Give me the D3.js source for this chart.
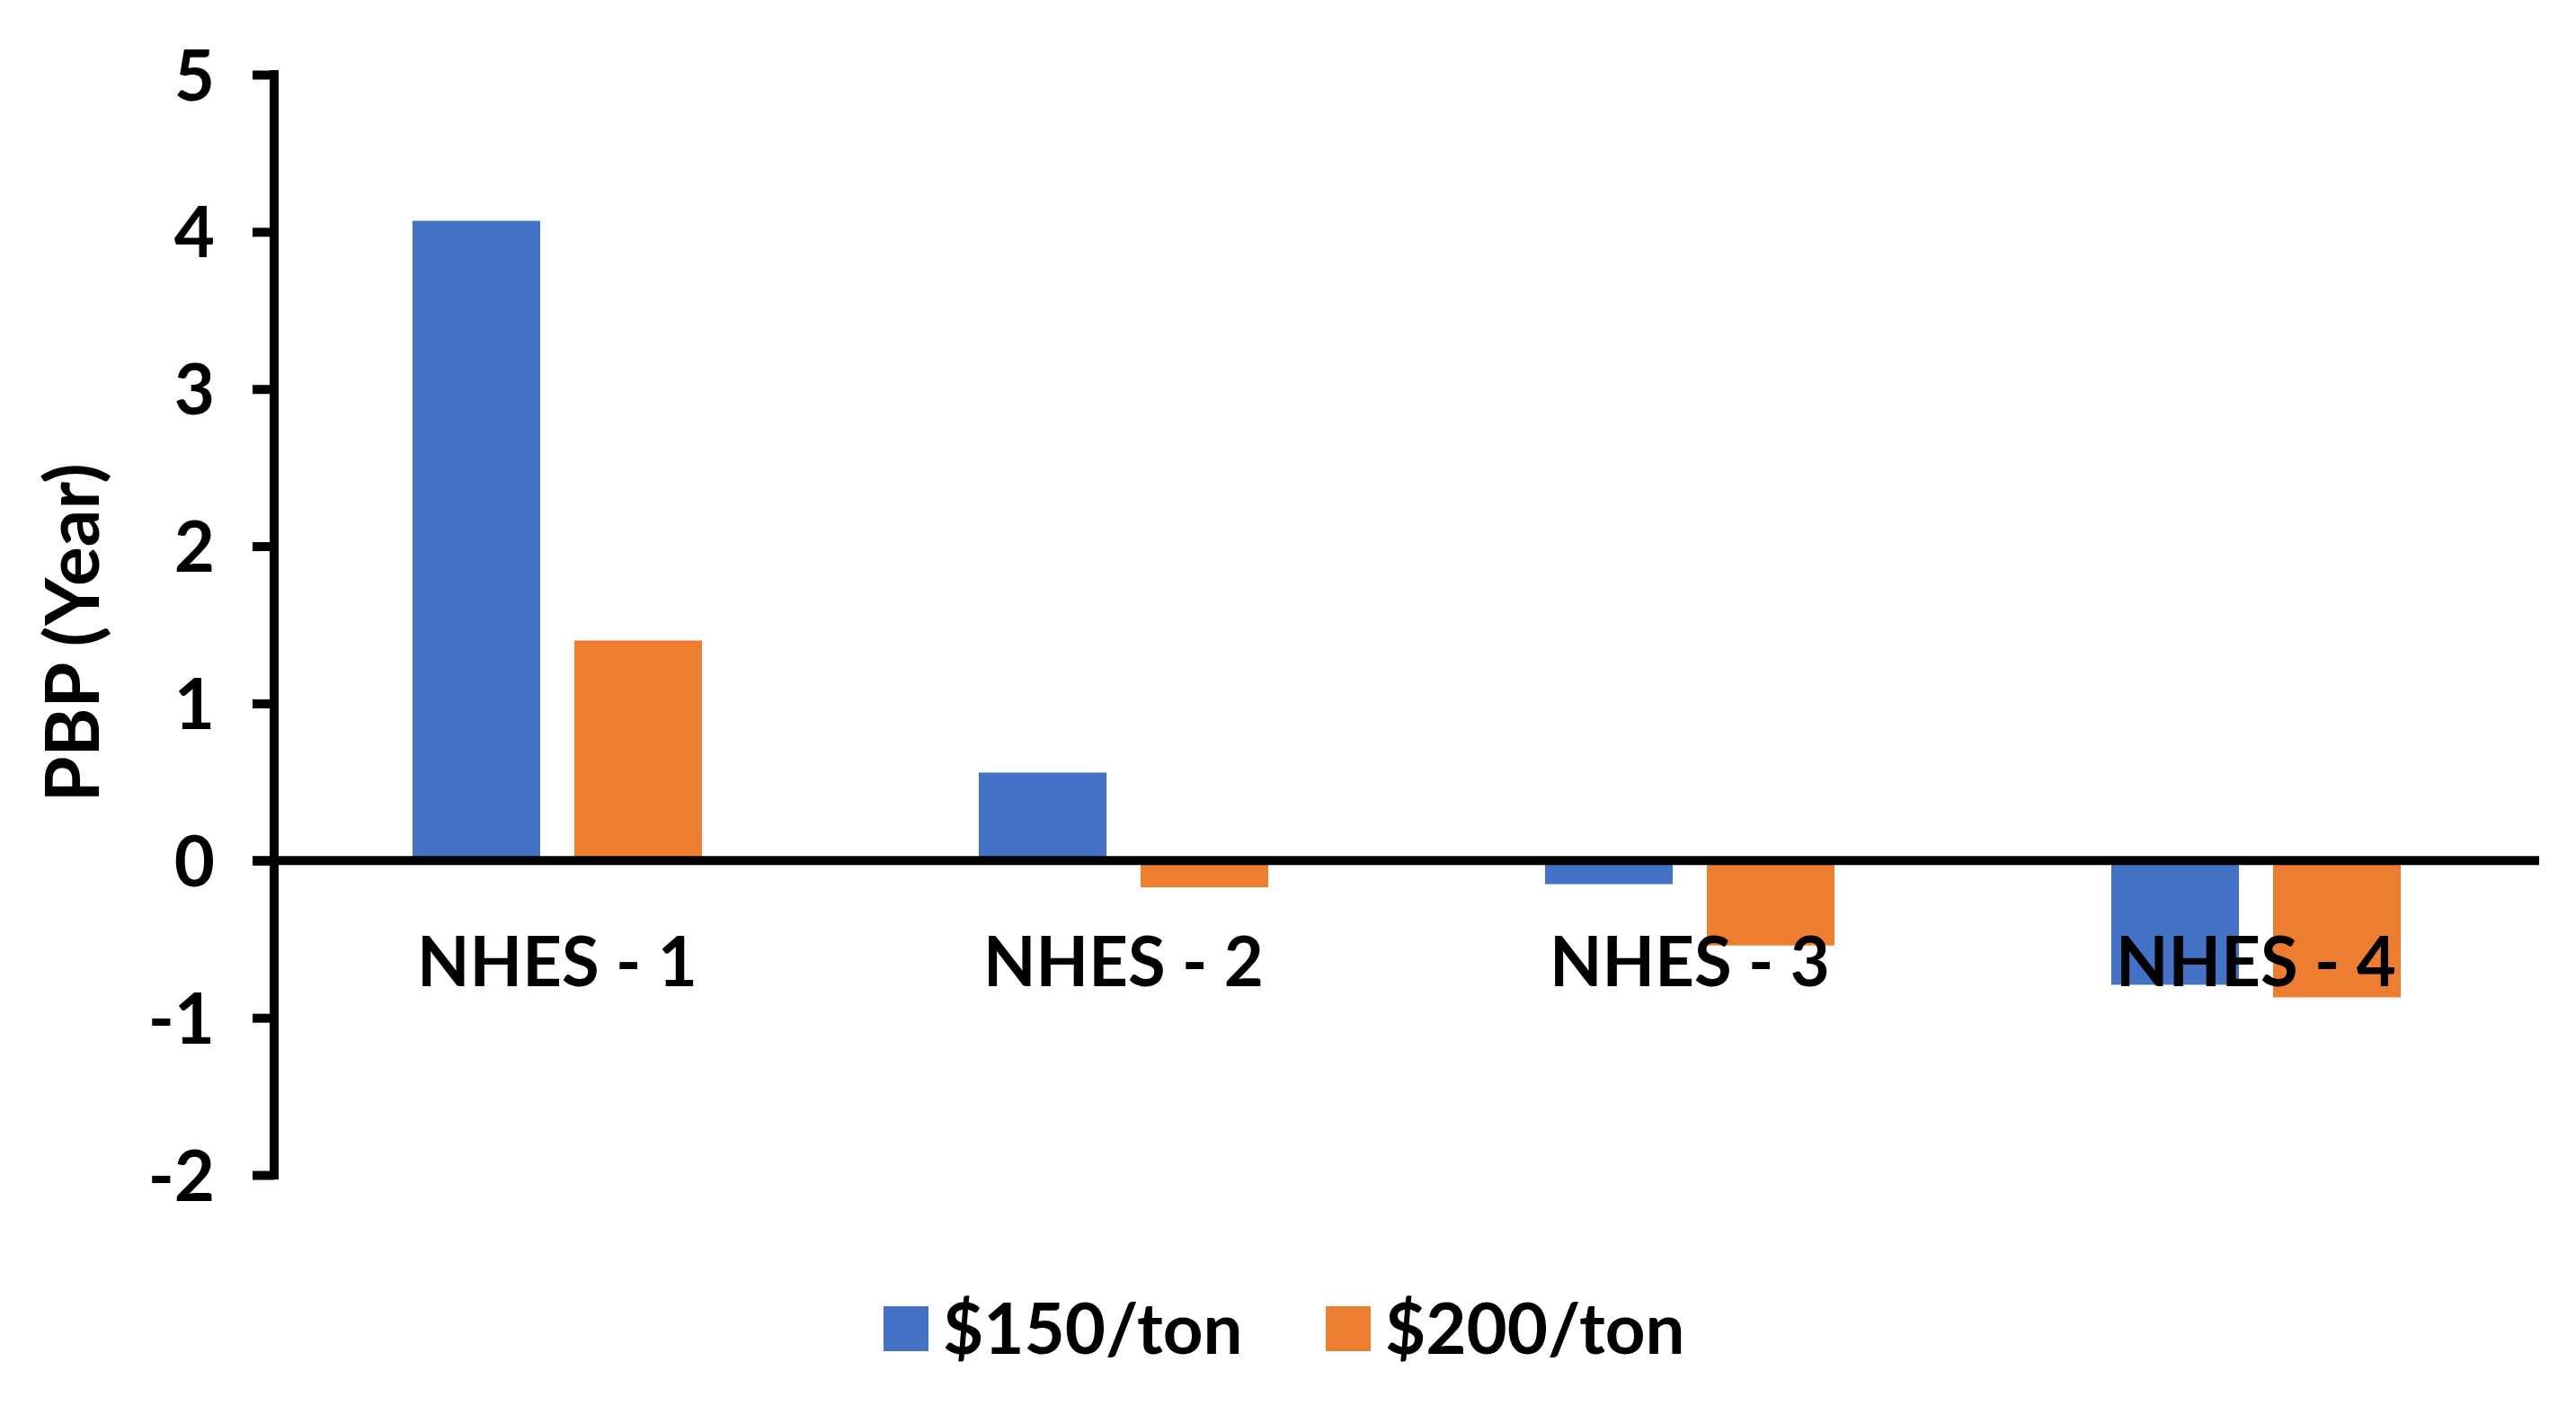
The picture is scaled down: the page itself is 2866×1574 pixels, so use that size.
<!DOCTYPE html>
<html>
<head>
<meta charset="utf-8">
<script src="https://cdn.jsdelivr.net/npm/d3@7"></script>
<style>
  html, body { margin: 0; padding: 0; background: #fff; }
  text { font-family: Lato, "Open Sans", sans-serif; font-weight: bold; fill: #000; }
</style>
</head>
<body>
<svg id="chart" width="2866" height="1574"></svg>
<script>
const categories = ["NHES - 1", "NHES - 2", "NHES - 3", "NHES - 4"];
const seriesNames = ["$150/ton", "$200/ton"];
const values150 = [4.07, 0.56, -0.15, -0.79];
const values200 = [1.40, -0.17, -0.54, -0.87];
const yTicks = [-2, -1, 0, 1, 2, 3, 4, 5];
const colors = ["#4472C4", "#ED7D31"];

const seriesValues = [values150, values200];
const svg = d3.select("#chart");

const plotLeft = 305, plotRight = 2825;
const y = d3.scaleLinear().domain([-2, 5]).range([1307, 83]);
const x0 = d3.scaleBand().domain(categories).range([plotLeft, plotRight]).padding(0);
const bw = x0.bandwidth();
const x1 = d3.scaleBand().domain(seriesNames)
  .range([bw * 0.2444, bw * 0.7556]).paddingInner(0.211).paddingOuter(0);

// bars
const groups = svg.append("g").selectAll("g")
  .data(categories).join("g")
  .attr("transform", d => `translate(${x0(d)},0)`);

groups.selectAll("rect")
  .data((c, i) => seriesNames.map((s, j) => ({ s, v: seriesValues[j][i], j })))
  .join("rect")
  .attr("x", d => x1(d.s))
  .attr("width", x1.bandwidth())
  .attr("y", d => y(Math.max(0, d.v)))
  .attr("height", d => Math.abs(y(d.v) - y(0)))
  .attr("fill", d => colors[d.j]);

// y axis
const yAxis = d3.axisLeft(y).tickValues(yTicks).tickSize(24).tickPadding(42).tickFormat(d => String(d));
const gy = svg.append("g").attr("transform", `translate(${plotLeft},0)`).call(yAxis);
gy.select(".domain").attr("stroke", "#000").attr("stroke-width", 10).attr("d", `M0,${y(5)-5}V${y(-2)+5}`);
gy.selectAll(".tick line").attr("stroke", "#000").attr("stroke-width", 10);
gy.selectAll(".tick text").attr("font-size", 78).attr("font-family", "Lato, sans-serif").attr("font-weight", "bold").attr("fill", "#000").attr("dy", "0.36em");

// zero line
svg.append("line")
  .attr("x1", plotLeft - 24).attr("x2", plotRight)
  .attr("y1", y(0)).attr("y2", y(0))
  .attr("stroke", "#000").attr("stroke-width", 10);

// category labels
svg.append("g").selectAll("text")
  .data(categories).join("text")
  .attr("x", d => x0(d) + bw / 2)
  .attr("y", y(0) + 140)
  .attr("text-anchor", "middle")
  .attr("font-size", 76)
  .text(d => d);

// y axis title
svg.append("text")
  .attr("transform", `translate(110,${y(1.45)}) rotate(-90)`)
  .attr("text-anchor", "middle")
  .attr("font-size", 82)
  .text("PBP (Year)");

// legend
const legendX = [983, 1475];
const legend = svg.append("g").selectAll("g")
  .data(seriesNames).join("g")
  .attr("transform", (d, i) => `translate(${legendX[i]},1453)`);
legend.append("rect").attr("width", 50).attr("height", 50).attr("fill", (d, i) => colors[i]);
legend.append("text").attr("x", 66).attr("y", 53).attr("font-size", 78).text(d => d);
</script>
</body>
</html>
